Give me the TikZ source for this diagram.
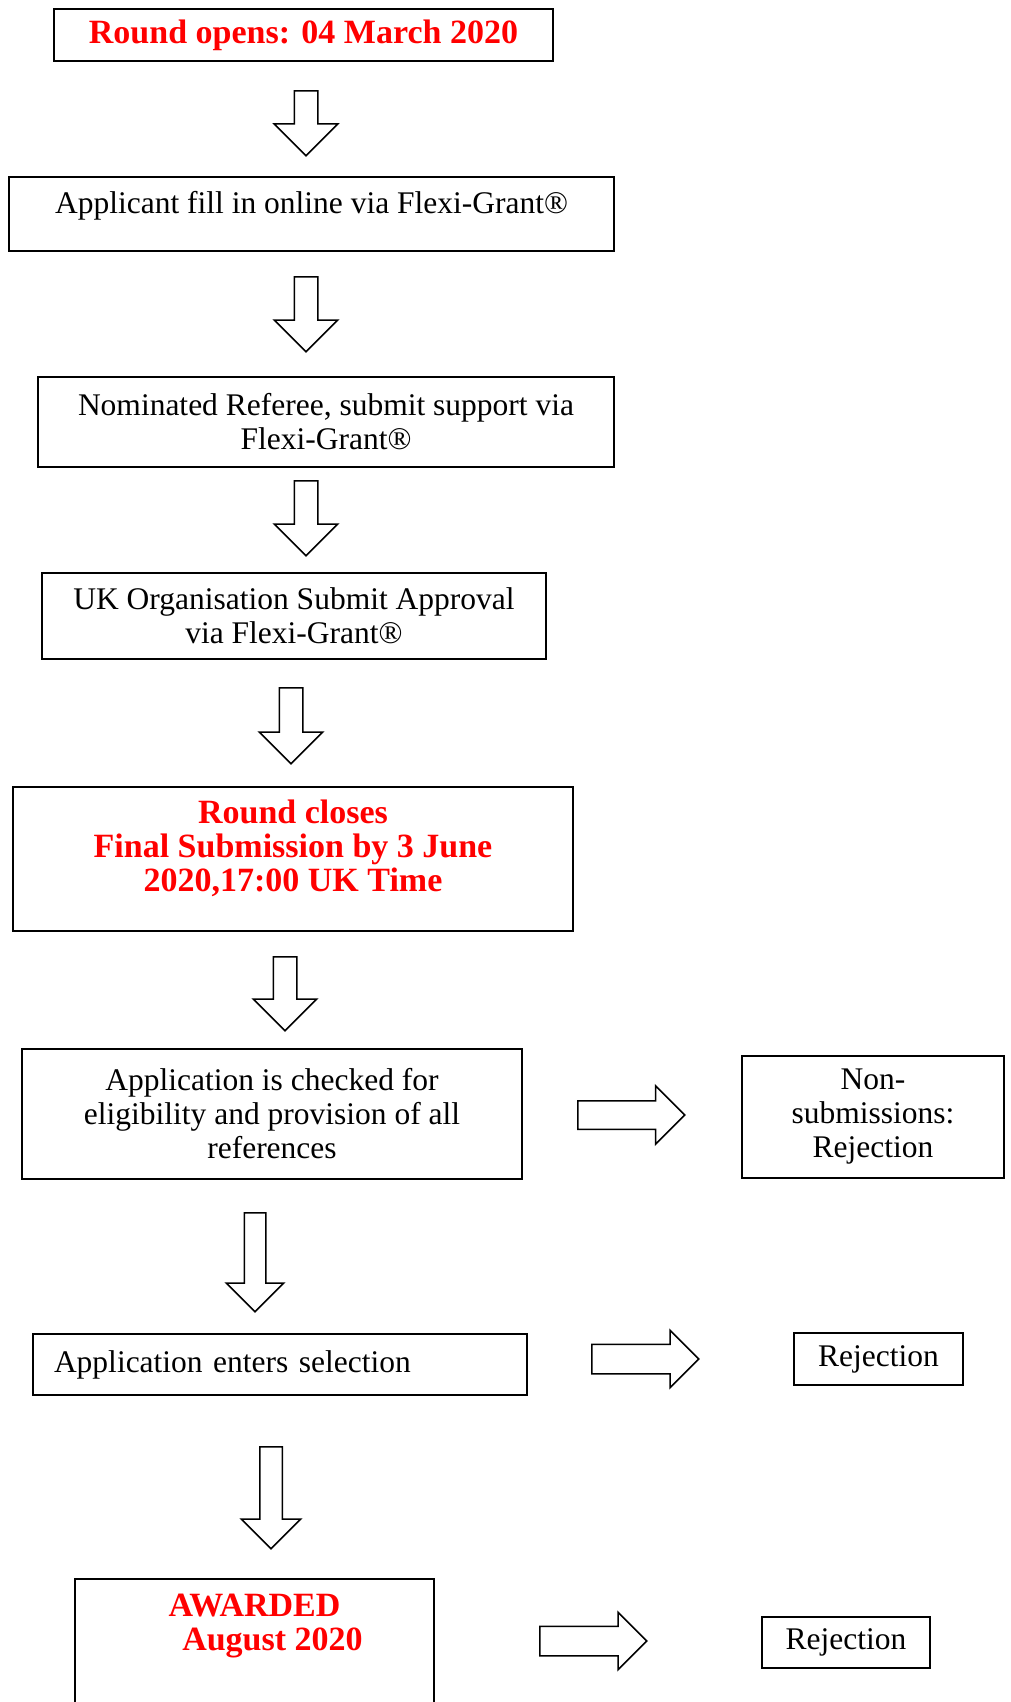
\documentclass[tikz,border=0pt]{standalone}
\usepackage{fontspec}
\setmainfont{Liberation Serif}
\usetikzlibrary{shapes.arrows, positioning}
\definecolor{roundred}{HTML}{FF0000}

\begin{document}
\begin{tikzpicture}[x=1pt, y=-1pt, line width=1.5pt]
\tikzstyle{box} = [rectangle, draw=black, inner sep=0pt, align=center, font=\fontsize{31.5}{34}\selectfont]
\tikzstyle{txt} = [inner sep=0pt, align=center, font=\fontsize{31.5}{34}\selectfont]
\tikzstyle{redtxt} = [inner sep=0pt, align=center, text=roundred, font=\fontsize{34}{34}\selectfont\bfseries]
\tikzstyle{downarr} = [single arrow, draw=black, fill=white, rotate=-90, anchor=tail, inner xsep=0pt, inner ysep=11pt, single arrow tip angle=90, single arrow head indent=0pt, single arrow head extend=20pt]
\tikzstyle{rightarr} = [single arrow, draw=black, fill=white, anchor=tail, inner xsep=0pt, inner ysep=14pt, single arrow tip angle=90, single arrow head indent=0pt, single arrow head extend=14pt, minimum height=107pt]

\path[use as bounding box, clip] (0,0) rectangle (1010,1702);

% Main column
\node (opens) [box, minimum width=499pt, minimum height=52pt, text=roundred, font=\fontsize{34}{34}\selectfont\bfseries] at (303.5,35) {Round opens: 04 March 2020};
\node (fill) [box, minimum width=605pt, minimum height=74pt] at (311.5,214) {};
\node (filltxt) [txt, anchor=base] at (311.5,213) {Applicant fill in online via Flexi-Grant®};
\node (referee) [box, minimum width=576pt, minimum height=90pt] at (326,422) {Nominated Referee, submit support via\\Flexi-Grant®};
\node (approval) [box, minimum width=504pt, minimum height=86pt] at (294,616) {UK Organisation Submit Approval\\via Flexi-Grant®};
\node (closes) [box, minimum width=560pt, minimum height=144pt] at (293,859) {};
\node (closestxt) [redtxt, below=13pt of closes.north] {Round closes\\Final Submission by 3 June\\2020,17:00 UK Time};
\node (check) [box, minimum width=500pt, minimum height=130pt] at (272,1114) {Application is checked for\\eligibility and provision of all\\references};
\node (select) [box, minimum width=494pt, minimum height=61pt, text width=452pt, inner xsep=21pt, align=left] at (280,1364.5) {Application enters selection};
\node (awarded) [box, minimum width=359pt, minimum height=200pt] at (254.5,1679) {};
\node (awardedtxt) [redtxt, below=15pt of awarded.north] {AWARDED\\\hspace*{36pt}August 2020};

% Right column
\node (nonsub) [box, minimum width=262pt, minimum height=122pt] at (873,1117) {Non-\\submissions:\\Rejection};
\node (reject1) [box, minimum width=169pt, minimum height=52pt] at (878.5,1359) {Rejection};
\node (reject2) [box, minimum width=168pt, minimum height=51pt] at (846,1642.5) {Rejection};

% Block arrows
\node (a1) [downarr, minimum height=65pt] at (306,90) {};
\node (a2) [downarr, minimum height=75pt] at (306,276) {};
\node (a3) [downarr, minimum height=75pt] at (306,480) {};
\node (a4) [downarr, minimum height=76pt] at (291,687) {};
\node (a5) [downarr, minimum height=74pt] at (285,956) {};
\node (a6) [downarr, minimum height=99pt, inner ysep=10pt, single arrow head extend=18pt] at (255,1212) {};
\node (a7) [downarr, minimum height=102pt, inner ysep=10.5pt, single arrow head extend=18.5pt] at (271,1446) {};
\node (r1) [rightarr, inner ysep=13.5pt, single arrow head extend=15pt] at (577,1115) {};
\node (r2) [rightarr] at (591,1359) {};
\node (r3) [rightarr] at (539,1641) {};

\end{tikzpicture}
\end{document}
